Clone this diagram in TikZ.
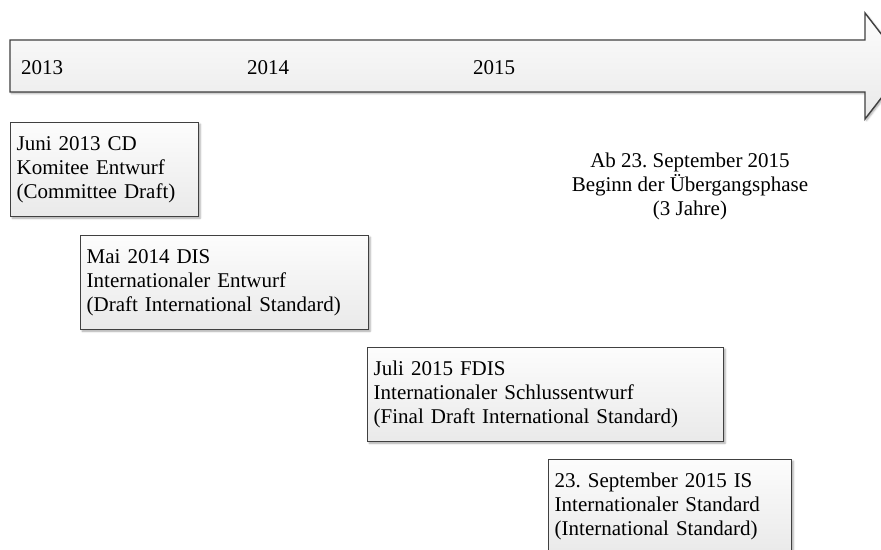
\documentclass[tikz,border=0pt]{standalone}
\usepackage{fontspec}
\setmainfont{Liberation Serif}
\usetikzlibrary{shadows.blur}
\frenchspacing
\begin{document}
\begin{tikzpicture}[x=1pt,y=-1pt,
  every node/.style={font=\fontsize{21}{24}\selectfont},
  frameline/.style={draw=black!75, line width=1.4pt},
  softshade/.style={top color=gray!2, bottom color=gray!17},
  shadowed/.style={blur shadow={shadow xshift=1.5pt, shadow yshift=-1.5pt,
      shadow blur steps=4, shadow opacity=35}},
  stage/.style={frameline, softshade, shadowed, anchor=north west, align=left,
      inner xsep=6pt, inner ysep=0pt, minimum height=94pt, text width=#1},
  year/.style={anchor=base west, inner sep=0pt},
  note/.style={anchor=north, align=center, inner sep=0pt}
]
\path[use as bounding box] (0,0) rectangle (881,549);
\clip (0,0) rectangle (881,549);

% timeline arrow
\draw[frameline, softshade, shadowed]
  (10,40) -- (865,40) -- (865,13) -- (906,66) -- (865,119) -- (865,92) -- (10,92) -- cycle;

% years along the arrow
\node[year] (y13) at (21,74) {2013};
\node[year] (y14) at (247,74) {2014};
\node[year] (y15) at (473,74) {2015};

% stages
\node[stage=176pt] (b1) at (10,122)
  {Juni 2013 CD\\Komitee Entwurf\\(Committee Draft)};
\node[stage=276pt] (b2) at (80,235)
  {Mai 2014 DIS\\Internationaler Entwurf\\(Draft International Standard)};
\node[stage=344pt] (b3) at (367,347)
  {Juli 2015 FDIS\\Internationaler Schlussentwurf\\(Final Draft International Standard)};
\node[stage=231pt] (b4) at (548,459)
  {23. September 2015 IS\\Internationaler Standard\\(International Standard)};

% transition period
\node[note] (tr) at (690,153)
  {Ab 23. September 2015\\Beginn der Übergangsphase\\(3 Jahre)};
\end{tikzpicture}
\end{document}
